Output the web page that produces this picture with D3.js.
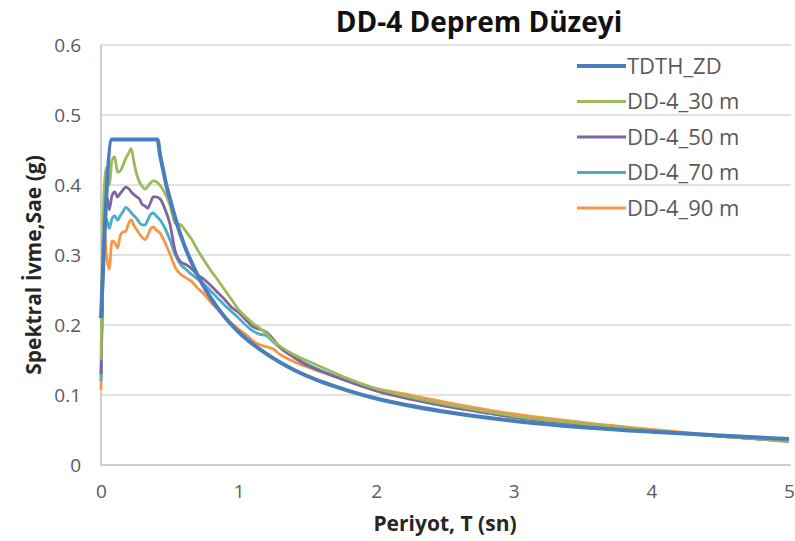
<!DOCTYPE html>
<html>
<head>
<meta charset="utf-8">
<script src="https://cdn.jsdelivr.net/npm/d3@7"></script>
<style>
  body { margin: 0; background: #fff; }
  svg { font-family: "Open Sans", sans-serif; }
</style>
</head>
<body>
<div id="chart"></div>
<script>
// Design spectrum (TDTH_ZD)
const designPeriod = [0, 0.08, 0.41, 0.43, 0.45, 0.47, 0.5, 0.55, 0.6, 0.7, 0.8, 0.9, 1.0, 1.2, 1.4, 1.6, 1.8, 2.0, 2.5, 3.0, 3.5, 4.0, 4.5, 5.0];
const designSae = [0.21, 0.465, 0.465, 0.442, 0.423, 0.404, 0.381, 0.346, 0.317, 0.272, 0.238, 0.211, 0.19, 0.159, 0.136, 0.119, 0.106, 0.095, 0.076, 0.063, 0.054, 0.0475, 0.042, 0.037];

// Shared period grid for the record spectra
const period = [0, 0.02, 0.04, 0.06, 0.08, 0.1, 0.12, 0.14, 0.16, 0.18, 0.2, 0.22, 0.24, 0.26, 0.28, 0.3, 0.32, 0.34, 0.36, 0.38, 0.4, 0.43, 0.46, 0.5, 0.54, 0.58, 0.62, 0.66, 0.7, 0.75, 0.8, 0.85, 0.9, 0.95, 1.0, 1.05, 1.1, 1.15, 1.2, 1.25, 1.3, 1.4, 1.5, 1.6, 1.8, 2.0, 2.25, 2.5, 2.75, 3.0, 3.5, 4.0, 4.5, 5.0];

const sae30 = [0.15, 0.38, 0.425, 0.40, 0.435, 0.44, 0.418, 0.42, 0.428, 0.438, 0.445, 0.452, 0.432, 0.415, 0.404, 0.398, 0.394, 0.398, 0.403, 0.406, 0.405, 0.399, 0.39, 0.372, 0.345, 0.343, 0.333, 0.322, 0.308, 0.292, 0.277, 0.264, 0.25, 0.236, 0.222, 0.212, 0.203, 0.196, 0.188, 0.178, 0.17, 0.158, 0.149, 0.14, 0.123, 0.109, 0.097, 0.087, 0.078, 0.07, 0.059, 0.049, 0.041, 0.034];
const sae50 = [0.13, 0.33, 0.385, 0.365, 0.385, 0.39, 0.383, 0.388, 0.393, 0.397, 0.395, 0.39, 0.386, 0.383, 0.38, 0.372, 0.37, 0.367, 0.375, 0.383, 0.383, 0.38, 0.368, 0.345, 0.305, 0.29, 0.286, 0.28, 0.272, 0.265, 0.256, 0.246, 0.236, 0.225, 0.218, 0.208, 0.198, 0.194, 0.19, 0.18, 0.168, 0.154, 0.142, 0.134, 0.119, 0.106, 0.094, 0.084, 0.076, 0.068, 0.058, 0.049, 0.041, 0.035];
const sae70 = [0.12, 0.31, 0.352, 0.338, 0.352, 0.356, 0.35, 0.356, 0.362, 0.368, 0.365, 0.36, 0.356, 0.352, 0.346, 0.343, 0.343, 0.35, 0.358, 0.36, 0.356, 0.35, 0.34, 0.322, 0.3, 0.286, 0.279, 0.272, 0.266, 0.258, 0.248, 0.238, 0.228, 0.219, 0.21, 0.2, 0.192, 0.187, 0.185, 0.176, 0.168, 0.155, 0.144, 0.135, 0.12, 0.107, 0.095, 0.085, 0.076, 0.069, 0.058, 0.049, 0.041, 0.034];
const sae90 = [0.107, 0.34, 0.30, 0.28, 0.32, 0.318, 0.31, 0.328, 0.333, 0.334, 0.345, 0.35, 0.342, 0.336, 0.33, 0.325, 0.322, 0.328, 0.337, 0.34, 0.336, 0.331, 0.32, 0.302, 0.282, 0.272, 0.267, 0.262, 0.253, 0.244, 0.232, 0.222, 0.212, 0.202, 0.194, 0.187, 0.178, 0.172, 0.169, 0.166, 0.158, 0.148, 0.14, 0.133, 0.12, 0.109, 0.1, 0.09, 0.081, 0.073, 0.061, 0.051, 0.042, 0.033];

const seriesNames = ["TDTH_ZD", "DD-4_30 m", "DD-4_50 m", "DD-4_70 m", "DD-4_90 m"];
const seriesColors = ["#4a7ebb", "#9bbb59", "#8064a2", "#4bacc6", "#f79646"];
const xTicks = [0, 1, 2, 3, 4, 5];
const yTicks = [0, 0.1, 0.2, 0.3, 0.4, 0.5, 0.6];

const width = 795, height = 541;
const margin = { top: 45, right: 6, bottom: 76, left: 101 };
const plotH = height - margin.top - margin.bottom;

const svg = d3.select("#chart").append("svg")
    .attr("width", width)
    .attr("height", height);

const g = svg.append("g")
    .attr("transform", `translate(${margin.left},${margin.top})`);

const x = d3.scaleLinear().domain([0, 5]).range([0, 688]);
const y = d3.scaleLinear().domain([0, 0.6]).range([plotH, 0]);

// gridlines
g.selectAll(".grid")
    .data(yTicks.filter(d => d > 0))
    .enter().append("line")
    .attr("x1", 0).attr("x2", 690)
    .attr("y1", d => y(d)).attr("y2", d => y(d))
    .attr("stroke", "#d9d9d9").attr("stroke-width", 1.5);

// axis lines
g.append("line").attr("x1", 0).attr("x2", 690).attr("y1", y(0)).attr("y2", y(0))
    .attr("stroke", "#bfbfbf").attr("stroke-width", 1.5);
g.append("line").attr("x1", 0).attr("x2", 0).attr("y1", y(0)).attr("y2", y(0.6))
    .attr("stroke", "#bfbfbf").attr("stroke-width", 1.5);

// tick labels
const xAxis = g.append("g")
    .attr("transform", `translate(0,${plotH})`)
    .call(d3.axisBottom(x).tickValues(xTicks).tickFormat(d3.format("d")).tickSize(0).tickPadding(20));
const yAxis = g.append("g")
    .call(d3.axisLeft(y).tickValues(yTicks).tickFormat(d => d === 0 ? "0" : d3.format(".1f")(d)).tickSize(0).tickPadding(20));
[xAxis, yAxis].forEach(a => {
    a.select(".domain").remove();
    a.selectAll("text")
        .attr("font-family", "Open Sans, sans-serif")
        .attr("font-size", "19px")
        .attr("fill", "#595959");
});

// data series
const records = [sae30, sae50, sae70, sae90];
const line = d3.line()
    .x(d => x(d[0]))
    .y(d => y(d[1]))
    .curve(d3.curveMonotoneX);

records.slice().reverse().forEach((vals, i) => {
    const idx = records.length - i;
    g.append("path")
        .datum(period.map((t, k) => [t, vals[k]]))
        .attr("fill", "none")
        .attr("stroke", seriesColors[idx])
        .attr("stroke-width", 2.8)
        .attr("stroke-linejoin", "round")
        .attr("d", line);
});

g.append("path")
    .datum(designPeriod.map((t, k) => [t, designSae[k]]))
    .attr("fill", "none")
    .attr("stroke", seriesColors[0])
    .attr("stroke-width", 4)
    .attr("stroke-linejoin", "round")
    .attr("d", line);

// legend
const legend = svg.append("g").attr("transform", "translate(577,66)");
seriesNames.forEach((name, i) => {
    const row = legend.append("g").attr("transform", `translate(0,${i * 35.5})`);
    row.append("line")
        .attr("x1", 0).attr("x2", 49)
        .attr("stroke", seriesColors[i])
        .attr("stroke-width", i === 0 ? 4 : 2.8);
    row.append("text")
        .attr("x", 50).attr("dy", "0.35em")
        .attr("font-size", "22px")
        .attr("fill", "#595959")
        .text(name);
});

// title
svg.append("text")
    .attr("x", 479).attr("y", 32)
    .attr("text-anchor", "middle")
    .attr("font-size", "28px")
    .attr("font-weight", "bold")
    .attr("fill", "#111")
    .text("DD-4 Deprem Düzeyi");

// axis titles
svg.append("text")
    .attr("x", 445).attr("y", 531)
    .attr("text-anchor", "middle")
    .attr("font-size", "21px")
    .attr("font-weight", "bold")
    .attr("fill", "#262626")
    .text("Periyot, T (sn)");

svg.append("text")
    .attr("transform", "translate(41,265) rotate(-90)")
    .attr("text-anchor", "middle")
    .attr("font-size", "21px")
    .attr("font-weight", "bold")
    .attr("fill", "#262626")
    .text("Spektral İvme,Sae (g)");
</script>
</body>
</html>
